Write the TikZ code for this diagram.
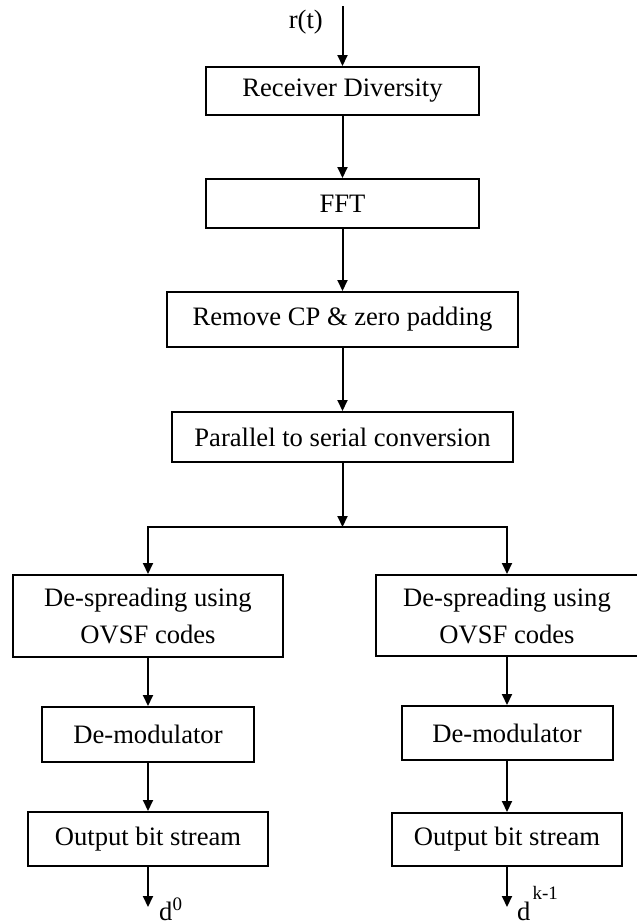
\documentclass[tikz,border=0pt]{standalone}
\usepackage{fontspec}
\setmainfont{Liberation Serif}
\usetikzlibrary{arrows.meta}
\begin{document}
\begin{tikzpicture}[x=1pt,y=-1pt,
  blk/.style={draw, line width=2pt, inner sep=0pt, align=center,
    font=\fontsize{26.6}{37}\selectfont},
  arr/.style={line width=2pt, -{Triangle[length=11pt,width=10pt]}},
  lbl/.style={inner sep=0pt, font=\fontsize{26.6}{30}\selectfont}]
\useasboundingbox (0,0) rectangle (637,924);

% main receive chain
\node[blk, minimum width=273pt, minimum height=48pt] (rd)  at (342.5,91)    {Receiver Diversity};
\node[blk, minimum width=273pt, minimum height=49pt] (fft) at (342.5,203.5) {FFT};
\node[blk, minimum width=351pt, minimum height=55pt] (rcp) at (342.5,319.5) {Remove CP \& zero padding};
\node[blk, minimum width=341pt, minimum height=50pt] (p2s) at (342.5,437)   {Parallel to serial conversion};

% left branch
\node[blk, minimum width=270pt, minimum height=82pt] (ds1) at (148,616)   {De-spreading using\\OVSF codes};
\node[blk, minimum width=212pt, minimum height=55pt] (dm1) at (148,734.5) {De-modulator};
\node[blk, minimum width=240pt, minimum height=54pt] (ob1) at (148,839)   {Output bit stream};

% right branch
\node[blk, minimum width=262pt, minimum height=81pt] (ds2) at (507,615.5) {De-spreading using\\OVSF codes};
\node[blk, minimum width=211pt, minimum height=54pt] (dm2) at (507,733)   {De-modulator};
\node[blk, minimum width=230pt, minimum height=53pt] (ob2) at (507,839.5) {Output bit stream};

% free ends and split point
\coordinate (in)    at (342.5,6);
\coordinate (split) at (342.5,527);
\coordinate (out1)  at (148,907);
\coordinate (out2)  at (507,907);

% labels
\node[lbl, anchor=base east] (rt) at (323,28) {r(t)};
\node[lbl, anchor=base west] (d0) at (159,920)
  {d\raisebox{10pt}{\fontsize{19}{19}\selectfont 0}};
\node[lbl, anchor=base west] (dk) at (517,920)
  {d\hspace{2pt}\raisebox{21pt}{\fontsize{19}{19}\selectfont k-1}};

% connectors
\draw[arr] (in) -- (rd.north);
\draw[arr] (rd.south) -- (fft.north);
\draw[arr] (fft.south) -- (rcp.north);
\draw[arr] (rcp.south) -- (p2s.north);
\draw[arr] (p2s.south) -- (split);
\draw[arr] (split) -| (ds1.north);
\draw[arr] (split) -| (ds2.north);
\draw[arr] (ds1.south) -- (dm1.north);
\draw[arr] (dm1.south) -- (ob1.north);
\draw[arr] (ob1.south) -- (out1);
\draw[arr] (ds2.south) -- (dm2.north);
\draw[arr] (dm2.south) -- (ob2.north);
\draw[arr] (ob2.south) -- (out2);
\end{tikzpicture}
\end{document}
